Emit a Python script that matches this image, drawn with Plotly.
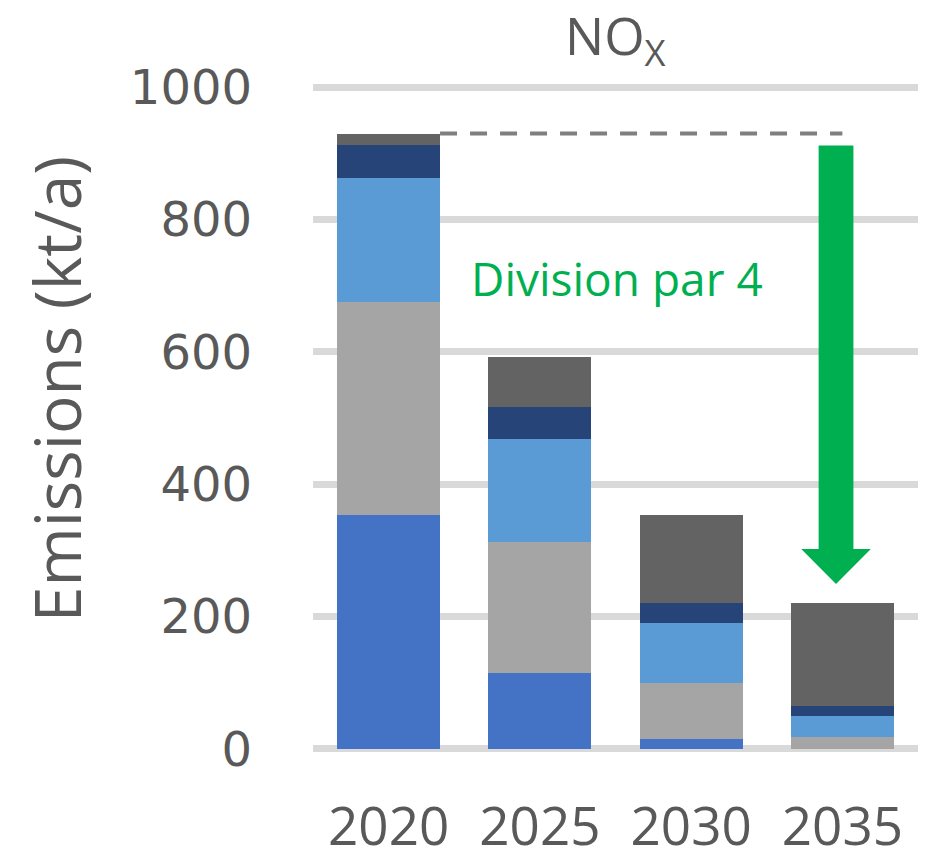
import plotly.graph_objects as go

# NOx emissions by year, stacked by source (kt/a)
years = ["2020", "2025", "2030", "2035"]
source_1 = [353, 115, 15, 0]     # blue
source_2 = [322, 198, 84, 18]    # grey
source_3 = [188, 155, 91, 32]    # light blue
source_4 = [50, 48, 30, 15]      # navy
source_5 = [17, 76, 133, 155]    # dark grey

series = [source_1, source_2, source_3, source_4, source_5]
colors = ["#4472c4", "#a5a5a5", "#5b9bd5", "#264478", "#636363"]

y_ticks = [0, 200, 400, 600, 800, 1000]

text_grey = "#595959"
green = "#00b050"

fig = go.Figure()
for vals, col in zip(series, colors):
    fig.add_trace(go.Bar(x=years, y=vals, marker=dict(color=col, line=dict(width=0)),
                         showlegend=False, hoverinfo="skip"))

totals = [sum(v) for v in zip(*series)]
start_total = totals[0]
end_total = totals[-1]

bargap = 0.32
half_bar = (1 - bargap) / 2

# dashed reference line at the 2020 level
fig.add_shape(type="line", xref="x", yref="y",
              x0=0 + half_bar, x1=3.0, y0=start_total, y1=start_total,
              line=dict(color="#7f7f7f", width=4, dash="17px,13px"))

# downward arrow towards the 2035 level
ax = 2.958
shaft_half = 0.115
head_half = 0.23
top = start_total - 18
tip = end_total + 29
head_base = tip + 53
path = (f"M {ax - shaft_half},{top} L {ax + shaft_half},{top} "
        f"L {ax + shaft_half},{head_base} L {ax + head_half},{head_base} "
        f"L {ax},{tip} L {ax - head_half},{head_base} "
        f"L {ax - shaft_half},{head_base} Z")
fig.add_shape(type="path", xref="x", yref="y", path=path,
              fillcolor=green, line=dict(width=0))

fig.add_annotation(x=1.51, y=711, xref="x", yref="y", text="Division par 4",
                   showarrow=False, font=dict(family="Open Sans", size=46, color=green),
                   xanchor="center", yanchor="middle")

fig.add_annotation(x=1.5, y=1.0, xref="x", yref="paper", text="NO<sub>X</sub>",
                   showarrow=False, font=dict(family="Open Sans", size=52, color=text_grey),
                   xanchor="center", yanchor="bottom", yshift=5)

fig.add_annotation(x=-0.425, y=0.543, xref="paper", yref="paper", text="Emissions (kt/a)",
                   showarrow=False, textangle=-90,
                   font=dict(family="Open Sans", size=64, color=text_grey),
                   xanchor="center", yanchor="middle")

fig.update_layout(
    barmode="stack",
    bargap=bargap,
    width=941, height=860,
    margin=dict(l=313, r=23, t=84, b=108, autoexpand=False),
    plot_bgcolor="white", paper_bgcolor="white",
    xaxis=dict(type="category", range=[-0.5, 3.5], showgrid=False, showline=False,
               zeroline=False, ticks="", automargin=False,
               tickfont=dict(family="Open Sans", size=53, color=text_grey),
               ticklabelstandoff=39),
    yaxis=dict(range=[-5, 1005], tickvals=y_ticks, showgrid=True, gridcolor="#d9d9d9",
               gridwidth=7, zeroline=False, showline=False, ticks="", automargin=False,
               tickfont=dict(family="DejaVu Sans", size=48, color=text_grey),
               ticklabelstandoff=60),
)

fig.write_html("out.html")
